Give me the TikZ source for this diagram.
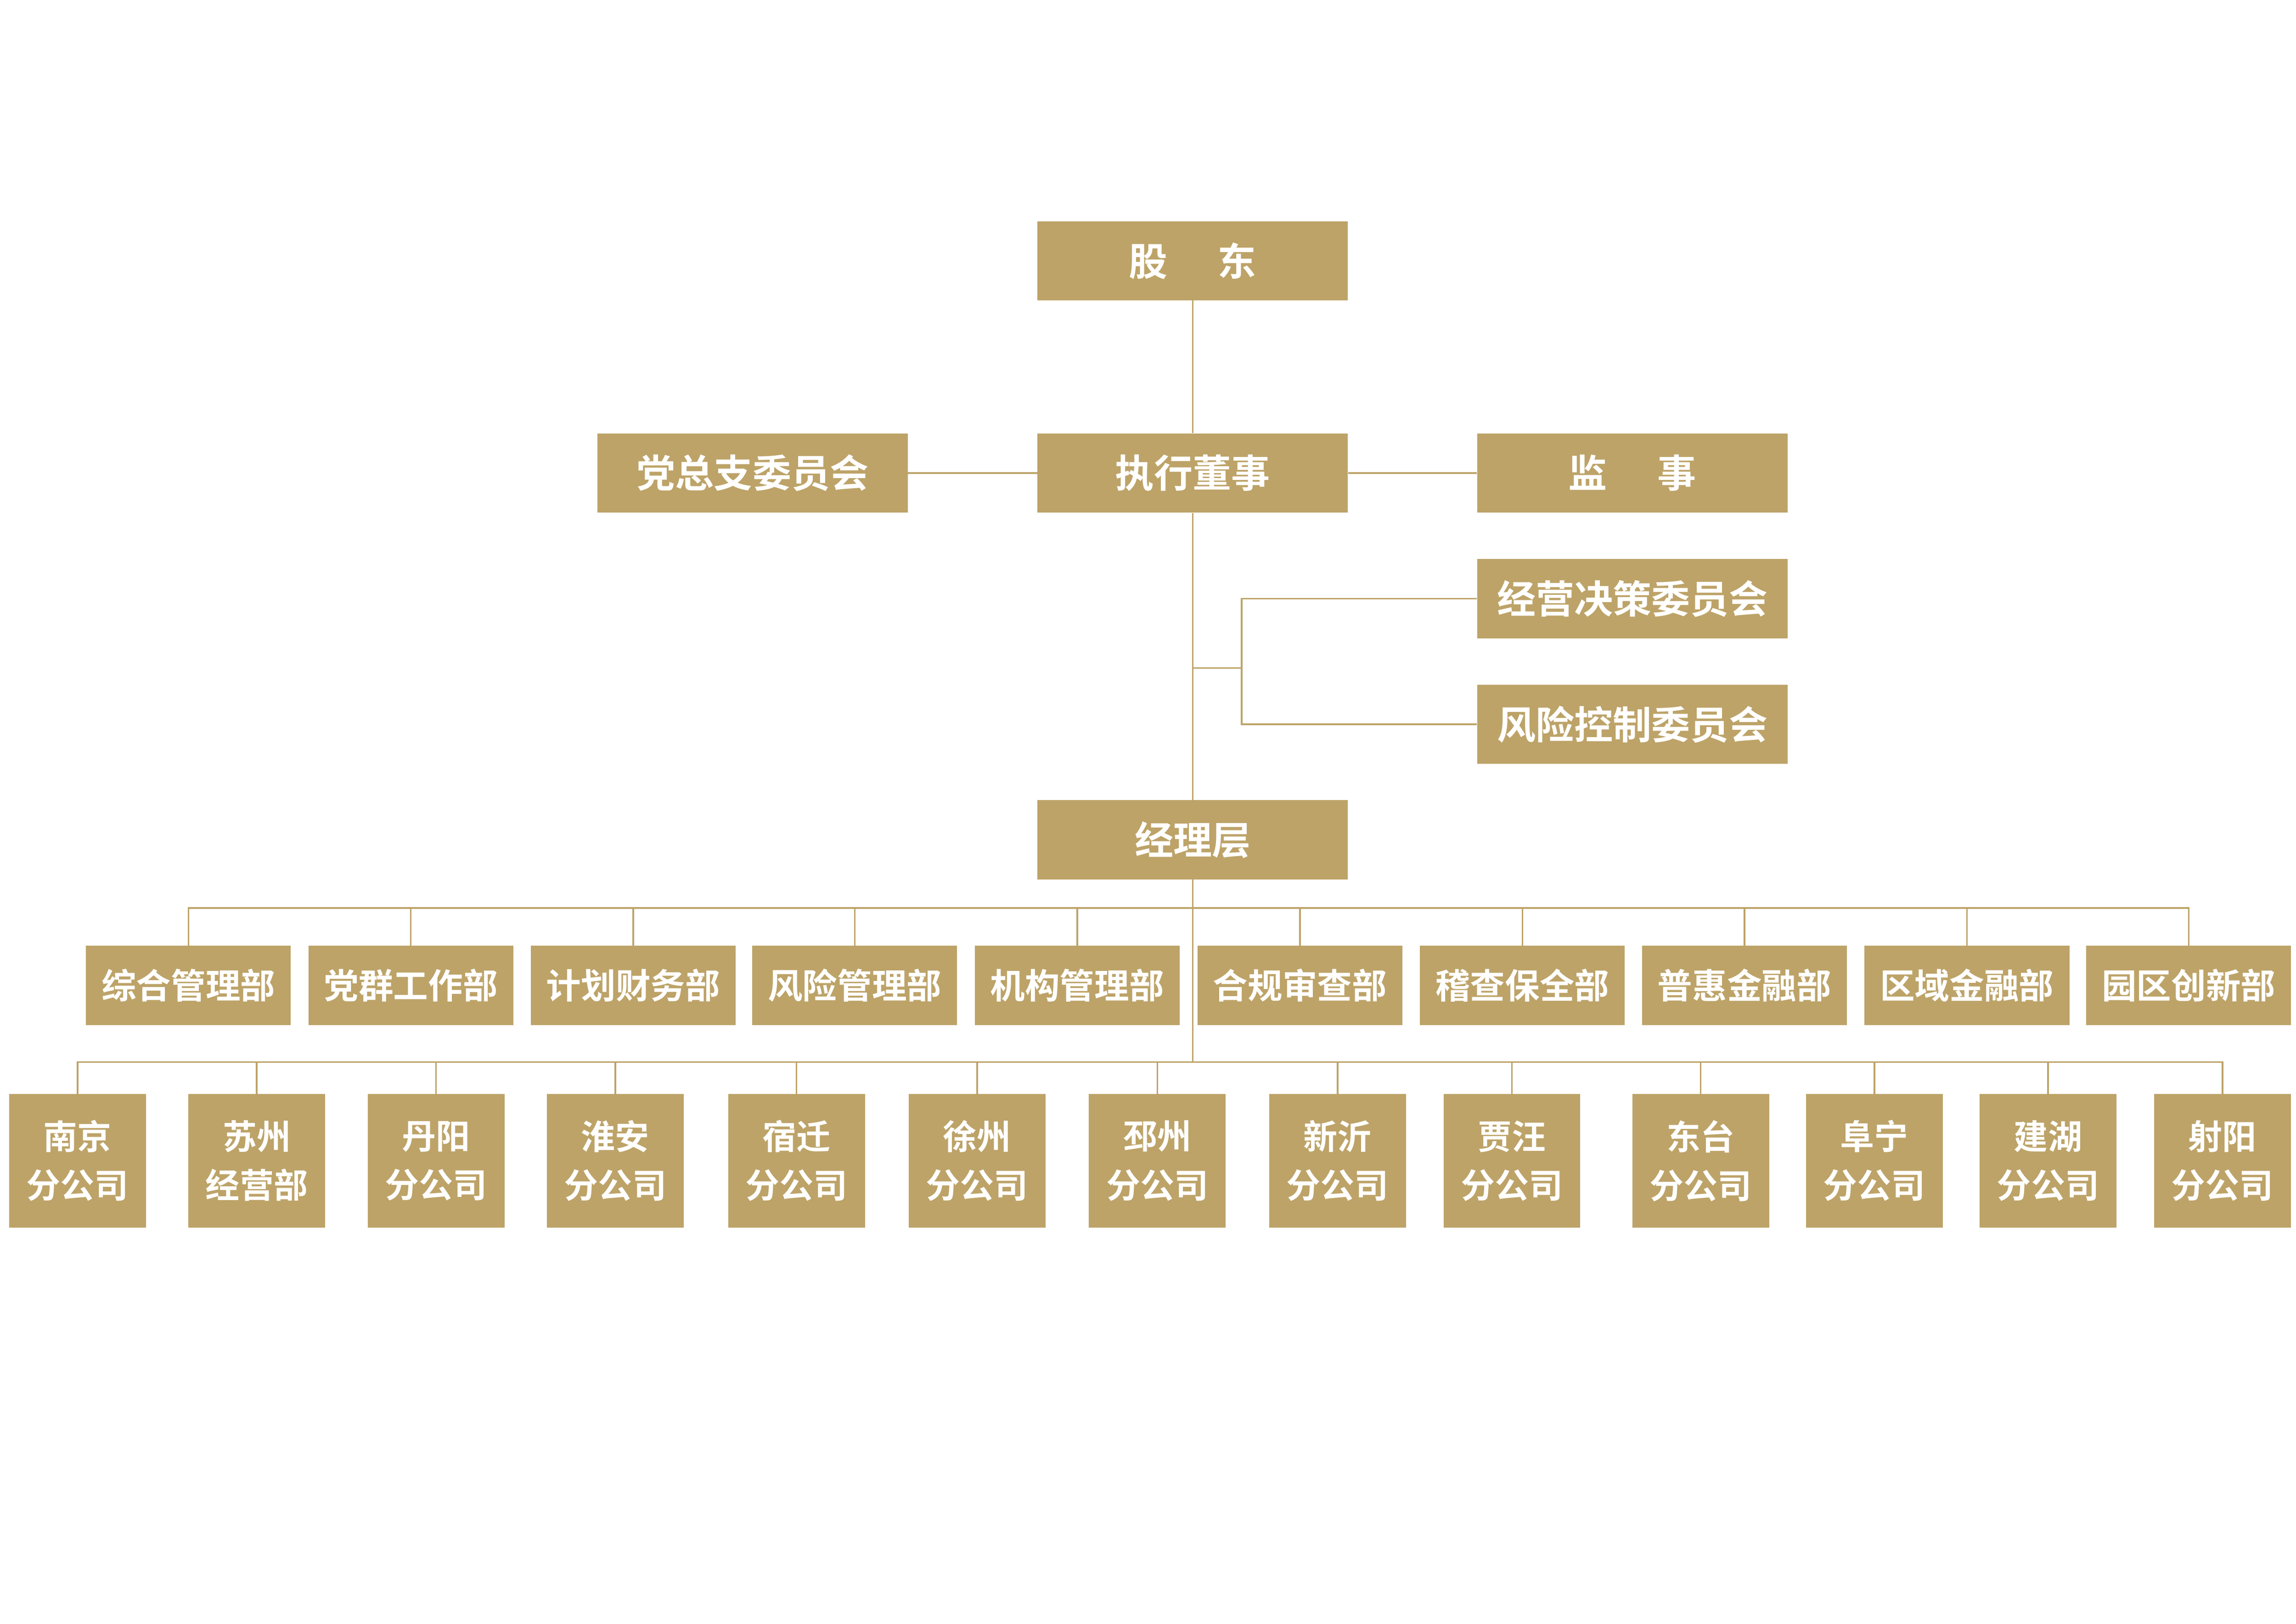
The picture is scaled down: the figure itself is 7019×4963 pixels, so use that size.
\documentclass[tikz,border=0pt]{standalone}
\usepackage{fontspec}
\newfontfamily\cjkbf{Noto Sans CJK SC Bold}
\definecolor{gold}{RGB}{189,163,104}
\begin{document}
\begin{tikzpicture}[x=0.01cm,y=-0.01cm,
  boxbase/.style={fill=gold,draw=none,text=white,inner sep=0pt},
  topbox/.style={boxbase,minimum width=9.48cm,minimum height=2.42cm,font=\cjkbf\fontsize{33.6}{40}\selectfont},
  deptbox/.style={boxbase,minimum width=6.26cm,minimum height=2.43cm,font=\cjkbf\fontsize{30.2}{36}\selectfont},
  brbox/.style={boxbase,minimum width=4.18cm,minimum height=4.08cm,align=center,font=\cjkbf\fontsize{29.6}{42.4}\selectfont},
  conn/.style={draw=gold,line width=1.4pt}]
\useasboundingbox (0,0) rectangle (7019,4963);
% top level
\node[topbox] (gd) at (3646,797) {股\hspace{1.3em}东};
\node[topbox] (zx) at (3646,1446) {执行董事};
\node[topbox] (dz) at (2301,1446) {党总支委员会};
\node[topbox] (js) at (4990,1446) {监\hspace{1.3em}事};
\node[topbox] (jy) at (4990,1830) {经营决策委员会};
\node[topbox] (fx) at (4990,2214) {风险控制委员会};
\node[topbox] (jl) at (3646,2567) {经理层};
% departments
\foreach \i/\x/\t in {1/576/综合管理部,2/1256/党群工作部,3/1936/计划财务部,4/2613/风险管理部,5/3293/机构管理部,6/3974/合规审查部,7/4654/稽查保全部,8/5333/普惠金融部,9/6013/区域金融部,10/6691/园区创新部}
  \node[deptbox] (d\i) at (\x,3012) {\t};
% branches
\foreach \i/\x/\a/\b in {1/237/南京/分公司,2/785/苏州/经营部,3/1333/丹阳/分公司,4/1881/淮安/分公司,5/2435/宿迁/分公司,6/2987/徐州/分公司,7/3538/邳州/分公司,8/4089/新沂/分公司,9/4622/贾汪/分公司,10/5199/东台/分公司,11/5730/阜宁/分公司,12/6261/建湖/分公司,13/6794/射阳/分公司}
  \node[brbox] (b\i) at (\x,3548) {\a\\\b};
% connectors
\coordinate (bj) at (3646,2042);
\coordinate (bx) at (3796,2042);
\coordinate (bus1) at (3646,2775);
\coordinate (bus2) at (3646,3246);
\draw[conn] (gd.south) -- (zx.north);
\draw[conn] (dz.east) -- (zx.west);
\draw[conn] (zx.east) -- (js.west);
\draw[conn] (zx.south) -- (jl.north);
\draw[conn] (bj) -- (bx);
\draw[conn] (bx) |- (jy.west);
\draw[conn] (bx) |- (fx.west);
\draw[conn] (jl.south) -- (bus2);
\draw[conn] (d1.north) -- (d1.north |- bus1) -- (d10.north |- bus1) -- (d10.north);
\foreach \i in {2,...,9} \draw[conn] (d\i.north) -- (d\i.north |- bus1);
\draw[conn] (b1.north) -- (b1.north |- bus2) -- (b13.north |- bus2) -- (b13.north);
\foreach \i in {2,...,12} \draw[conn] (b\i.north) -- (b\i.north |- bus2);
\end{tikzpicture}
\end{document}
